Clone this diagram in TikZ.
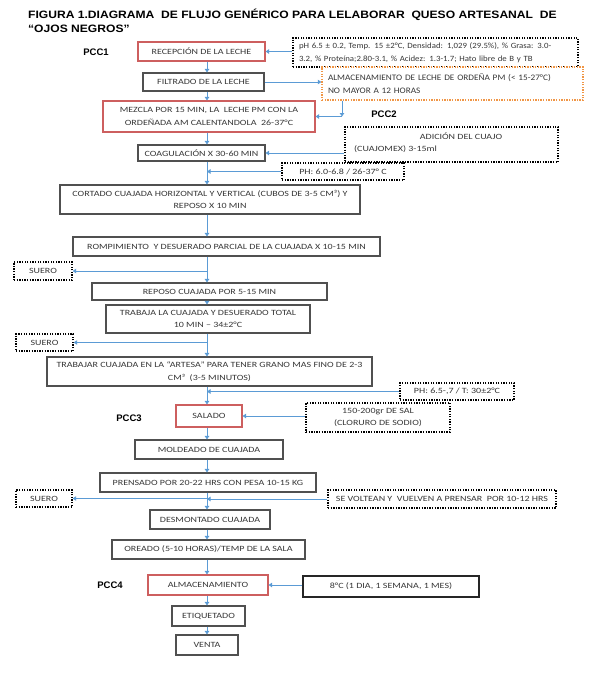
\documentclass[tikz,border=0pt]{standalone}
\usepackage{fontspec}
\setmainfont{Carlito}[FakeStretch=1.25]
\newfontfamily\phfont{Carlito}[FakeStretch=1.10]
\newfontfamily\titlefont{Liberation Sans}[FakeStretch=1.13]
\newfontfamily\pccfont{Liberation Sans}
\usetikzlibrary{arrows.meta}
\definecolor{arrblue}{RGB}{91,155,213}
\definecolor{boxgray}{RGB}{80,80,80}
\definecolor{boxred}{RGB}{205,95,95}
\definecolor{txt}{RGB}{55,55,55}
\definecolor{orng}{RGB}{240,150,70}
\tikzset{
  box/.style={draw=boxgray, line width=1.1pt, fill=white, text=txt,
    font=\fontsize{8}{12.5}\selectfont, inner sep=2pt, align=center},
  redbox/.style={box, draw=boxred},
  dotbox/.style={box, draw=black, dash pattern=on 1.3pt off 1.3pt, line width=1.4pt},
  orbox/.style={dotbox, draw=orng},
  plain/.style={text=txt, font=\fontsize{8}{12.5}\selectfont, inner sep=0pt},
  arr/.style={draw=arrblue, line width=0.9pt, -{Triangle[length=3.5pt,width=4.5pt]}},
  pcc/.style={font=\pccfont\bfseries\fontsize{9.5}{11}\selectfont, text=black, inner sep=0pt},
  ttl/.style={font=\titlefont\bfseries\fontsize{10.7}{13}\selectfont, text=black, inner sep=0pt, anchor=west}
}
\begin{document}
\begin{tikzpicture}[x=1pt,y=-1pt]
\useasboundingbox (0,0) rectangle (596,675);
\coordinate (t) at (207,0);
\coordinate (kx) at (342,0);
% title
\node[ttl] (title1) at (28,15) {FIGURA 1.DIAGRAMA\ \ DE FLUJO GENÉRICO PARA LELABORAR\ \ QUESO ARTESANAL\ \ DE};
\node[ttl] (title2) at (28,29) {“OJOS NEGROS”};
% PCC labels
\node[pcc] (pcc1) at (96,52) {PCC1};
\node[pcc] (pcc2) at (384,114) {PCC2};
\node[pcc] (pcc3) at (129,418) {PCC3};
\node[pcc] (pcc4) at (110,585) {PCC4};
% main boxes
\node[redbox, minimum width=127pt, minimum height=19pt] (recep) at (201.5,51.5) {RECEPCIÓN DE LA LECHE};
\node[box, minimum width=121pt, minimum height=18pt] (filtr) at (203.5,82) {FILTRADO DE LA LECHE};
\node[redbox, minimum width=212pt, minimum height=31pt] (mezcla) at (209,116.5) {MEZCLA POR 15 MIN, LA\ \ LECHE PM CON LA\\ORDEÑADA AM CALENTANDOLA\ \ 26-37°C};
\node[box, minimum width=127pt, minimum height=16pt] (coag) at (201.5,153) {COAGULACIÓN X 30-60 MIN};
\node[box, minimum width=300pt, minimum height=29pt] (cort) at (210,199.5) {CORTADO CUAJADA HORIZONTAL Y VERTICAL (CUBOS DE 3-5 CM³) Y\\REPOSO X 10 MIN};
\node[box, minimum width=307pt, minimum height=19pt] (romp) at (226.5,246.5) {ROMPIMIENTO\ \ Y DESUERADO PARCIAL DE LA CUAJADA X 10-15 MIN};
\node[box, minimum width=235pt, minimum height=17pt] (repo) at (209.5,291.5) {REPOSO CUAJADA POR 5-15 MIN};
\node[box, minimum width=204pt, minimum height=28pt] (trab) at (208,319) {TRABAJA LA CUAJADA Y DESUERADO TOTAL\\10 MIN – 34±2°C};
\node[box, minimum width=325pt, minimum height=29pt] (arte) at (209.5,371.5) {TRABAJAR CUAJADA EN LA “ARTESA” PARA TENER GRANO MAS FINO DE 2-3\\CM³\ \ (3-5 MINUTOS)};
\node[redbox, minimum width=66pt, minimum height=22pt] (sala) at (209,416) {SALADO};
\node[box, minimum width=148pt, minimum height=19pt] (mold) at (209,449.5) {MOLDEADO DE CUAJADA};
\node[box, minimum width=216pt, minimum height=19pt] (pren) at (208,482.5) {PRENSADO POR 20-22 HRS CON PESA 10-15 KG};
\node[box, minimum width=120pt, minimum height=19pt] (desm) at (210,519.5) {DESMONTADO CUAJADA};
\node[box, minimum width=193pt, minimum height=19pt] (orea) at (208.5,549.5) {OREADO (5-10 HORAS)/TEMP DE LA SALA};
\node[redbox, minimum width=120pt, minimum height=20pt] (alma) at (208,585) {ALMACENAMIENTO};
\node[box, minimum width=73pt, minimum height=20pt] (etiq) at (208.5,616) {ETIQUETADO};
\node[box, minimum width=62pt, minimum height=20pt] (vent) at (207,645) {VENTA};
% side boxes
\node[dotbox, minimum width=285pt, minimum height=29pt, text width=273pt, inner xsep=6pt, align=left, font=\phfont\fontsize{8}{12.5}\selectfont] (ph0) at (435.5,52.5) {pH 6.5 ± 0.2, Temp. 15 ±2°C, Densidad: 1,029 (29.5\%), \% Grasa: 3.0-\\3.2, \% Proteína;2.80-3.1, \% Acidez: 1.3-1.7; Hato libre de B y TB};
\node[orbox, minimum width=261pt, minimum height=33pt, text width=249pt, inner xsep=6pt, align=left, font=\phfont\fontsize{8.4}{12.5}\selectfont] (orng) at (452.5,83.5) {ALMACENAMIENTO DE LECHE DE ORDEÑA PM (< 15-27°C)\\NO MAYOR A 12 HORAS};
\node[dotbox, minimum width=213pt, minimum height=35pt] (adic) at (451.5,144.5) {};
\node[plain] (adic1) at (461,136) {ADICIÓN DEL CUAJO};
\node[plain, anchor=west] (adic2) at (354,149) {(CUAJOMEX) 3-15ml};
\node[dotbox, minimum width=122pt, minimum height=17pt] (ph1) at (343,171.5) {PH: 6.0-6.8 / 26-37° C};
\node[dotbox, minimum width=58pt, minimum height=18pt] (sue1) at (43,271) {SUERO};
\node[dotbox, minimum width=57pt, minimum height=17pt] (sue2) at (44.5,342.5) {SUERO};
\node[dotbox, minimum width=114pt, minimum height=17pt] (ph2) at (457,391.5) {PH: 6.5-,7 / T: 30±2°C};
\node[dotbox, minimum width=144pt, minimum height=29pt] (sal) at (378,417.5) {150-200gr DE SAL\\(CLORURO DE SODIO)};
\node[dotbox, minimum width=56pt, minimum height=17pt] (sue3) at (44,498.5) {SUERO};
\node[dotbox, minimum width=228pt, minimum height=18pt] (volt) at (442,499) {SE VOLTEAN Y\ \ VUELVEN A PRENSAR\ \ POR 10-12 HRS};
\node[box, draw=black!85, line width=1.4pt, minimum width=176pt, minimum height=21pt] (ocho) at (391,586.5) {8°C (1 DIA, 1 SEMANA, 1 MES)};
% main flow
\draw[arr] (recep.south -| t) -- (filtr.north -| t);
\draw[arr] (filtr.south -| t) -- (mezcla.north -| t);
\draw[arr] (mezcla.south -| t) -- (coag.north -| t);
\draw[arr] (coag.south -| t) -- (cort.north -| t);
\draw[arr] (cort.south -| t) -- (romp.north -| t);
\draw[arr] (romp.south -| t) -- (repo.north -| t);
\draw[arr] (repo.south -| t) -- (trab.north -| t);
\draw[arr] (trab.south -| t) -- (arte.north -| t);
\draw[arr] (arte.south -| t) -- (sala.north -| t);
\draw[arr] (sala.south -| t) -- (mold.north -| t);
\draw[arr] (mold.south -| t) -- (pren.north -| t);
\draw[arr] (pren.south -| t) -- (desm.north -| t);
\draw[arr] (desm.south -| t) -- (orea.north -| t);
\draw[arr] (orea.south -| t) -- (alma.north -| t);
\draw[arr] (alma.south -| t) -- (etiq.north -| t);
\draw[arr] (etiq.south -| t) -- (vent.north -| t);
% side connectors
\draw[arr] (ph0.west |- recep.east) -- (recep.east);
\draw[arr] (filtr.east) -- (orng.west |- filtr.east);
\draw[arr] (orng.south -| kx) -- (mezcla.east -| kx);
\draw[arr] (mezcla.east -| kx) -- (mezcla.east);
\draw[arr] (adic.west |- coag.east) -- (coag.east);
\draw[arr] (ph1.west) -- (ph1.west -| t);
\draw[arr] (sue1.east -| t) -- (sue1.east);
\draw[arr] (sue2.east -| t) -- (sue2.east);
\draw[arr] (ph2.west) -- (ph2.west -| t);
\draw[arr] (sal.west |- sala.east) -- (sala.east);
\draw[arr] (sue3.east -| t) -- (sue3.east);
\draw[arr] (volt.west) -- (volt.west -| t);
\draw[arr] (ocho.west |- alma.east) -- (alma.east);
\end{tikzpicture}
\end{document}
